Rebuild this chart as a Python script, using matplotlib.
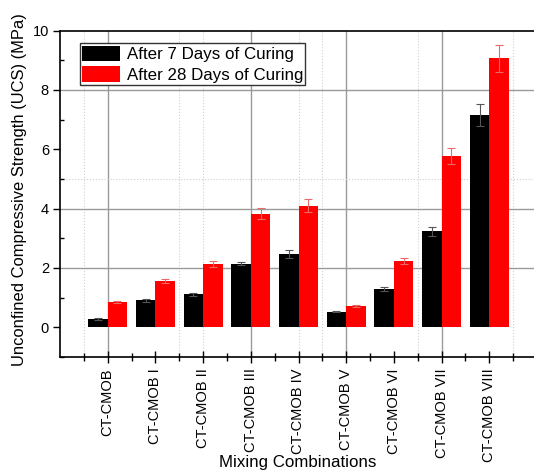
"""UCS of CT-CMOB mixes after 7 and 28 days of curing."""

import matplotlib

matplotlib.use("Agg")
import matplotlib.pyplot as plt
import numpy as np

plt.rcParams["font.family"] = ["Liberation Sans", "DejaVu Sans"]

# Data
mixes = [
    "CT-CMOB", "CT-CMOB I", "CT-CMOB II", "CT-CMOB III", "CT-CMOB IV",
    "CT-CMOB V", "CT-CMOB VI", "CT-CMOB VII", "CT-CMOB VIII",
]
ucs_7d = [0.29, 0.91, 1.12, 2.15, 2.47, 0.53, 1.29, 3.23, 7.16]
err_7d = [0.03, 0.04, 0.05, 0.04, 0.13, 0.02, 0.07, 0.15, 0.36]
ucs_28d = [0.86, 1.55, 2.14, 3.83, 4.10, 0.72, 2.22, 5.76, 9.06]
err_28d = [0.03, 0.07, 0.11, 0.18, 0.21, 0.02, 0.10, 0.27, 0.45]

# Origin-style grid (irregular, as in the source figure)
major_vgrid = [1, 4, 6, 8]
minor_vgrid = [0.5, 2.5, 3, 5, 5.5, 7.5, 9.5]
major_hgrid = [2, 4, 8]
minor_hgrid = [5]

fig = plt.figure(figsize=(5.34, 4.72), dpi=100)
ax = fig.add_axes([60 / 534, 0.2436, 474 / 534, 0.6916])

x = np.arange(1, len(mixes) + 1)
w = 0.41

for gx in major_vgrid:
    ax.axvline(gx, color="#9a9a9a", linewidth=1.0, zorder=0)
for gx in minor_vgrid:
    ax.axvline(gx, color="#d0d0d0", linewidth=0.8, linestyle=":", zorder=0)
for gy in major_hgrid:
    ax.axhline(gy, color="#9a9a9a", linewidth=1.0, zorder=0)
for gy in minor_hgrid:
    ax.axhline(gy, color="#d0d0d0", linewidth=0.8, linestyle=":", zorder=0)

ax.bar(x - w / 2, ucs_7d, w, color="black", zorder=2,
       label="After 7 Days of Curing")
ax.bar(x + w / 2, ucs_28d, w, color="#ff0000", zorder=2,
       label="After 28 Days of Curing")
ax.errorbar(x - w / 2, ucs_7d, yerr=err_7d, fmt="none", ecolor="#555555",
            elinewidth=0.8, capsize=3, capthick=0.8, zorder=3)
ax.errorbar(x + w / 2, ucs_28d, yerr=err_28d, fmt="none", ecolor="#e86a6a",
            elinewidth=0.8, capsize=3, capthick=0.8, zorder=3)

ax.set_xlim(0, 474 / 47.7)
ax.set_ylim(-1, 10)

ax.set_xticks(x)
ax.set_xticklabels(mixes, rotation=90, fontsize=10.5)
ax.set_xticks(np.arange(0.5, 10, 0.5), minor=True)
ax.set_yticks([0, 2, 4, 6, 8, 10])
ax.set_yticks([-1, 1, 3, 5, 7, 9], minor=True)
ax.tick_params(axis="y", labelsize=10.5, direction="out", length=5, width=1, pad=3)
ax.tick_params(axis="y", which="minor", direction="in", length=3, width=1)
ax.tick_params(axis="x", direction="inout", length=8, width=1, pad=4)
ax.tick_params(axis="x", which="minor", direction="inout", length=6, width=1)

for side in ("left", "bottom", "top"):
    ax.spines[side].set_linewidth(1.2)
    ax.spines[side].set_color("black")
ax.spines["right"].set_visible(False)

fig.text(20 / 534, 0.598, "Unconfined Compressive Strength (UCS) (MPa)",
         rotation=90, ha="center", va="center", fontsize=11.9)
fig.text(298 / 534, 1 - 455 / 472, "Mixing Combinations",
         ha="center", va="top", fontsize=12.2)

leg = ax.legend(loc="upper left", bbox_to_anchor=(0.042, 0.962), fontsize=12.2,
                handlelength=2.2, handleheight=1.05, handletextpad=0.4,
                labelspacing=0.22, borderpad=0.15, borderaxespad=0,
                fancybox=False, framealpha=1)
leg.get_frame().set_edgecolor("#333333")
leg.get_frame().set_linewidth(1.0)

fig.savefig("out.png", dpi=100)
plt.close(fig)
